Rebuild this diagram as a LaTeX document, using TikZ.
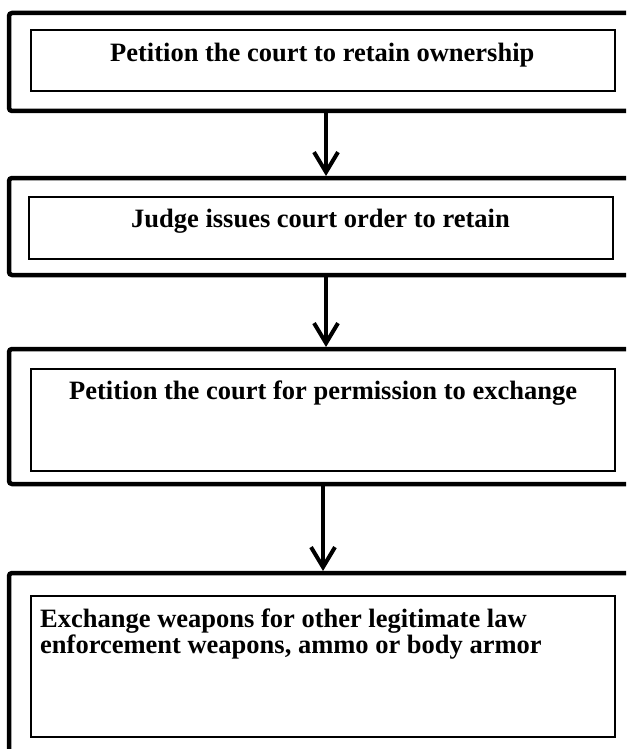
\documentclass[tikz,border=0pt]{standalone}
\usepackage{fontspec}
\setmainfont{Liberation Serif}
\usetikzlibrary{arrows.meta}
\begin{document}
\begin{tikzpicture}[x=1pt,y=1pt,
  outerbox/.style={draw, line width=4.5pt, rounded corners=3pt, inner sep=0pt, outer sep=0pt, anchor=north west},
  innerbox/.style={draw, line width=1.2pt, inner sep=0pt, outer sep=0pt, anchor=north west},
  txt/.style={font=\fontsize{26.5}{27}\selectfont\bfseries, inner sep=0pt, anchor=base west},
  flow/.style={line width=4pt, shorten >=2pt, -{Straight Barb[length=20pt,width=24pt]}}]
\useasboundingbox (0,0) rectangle (626,-749);
\clip (0,0) rectangle (626,-749);
% outer frames
\node[outerbox, minimum width=680, minimum height=98]  (o1) at (9,-13) {};
\node[outerbox, minimum width=680, minimum height=97]  (o2) at (9,-178) {};
\node[outerbox, minimum width=680, minimum height=135] (o3) at (9,-349) {};
\node[outerbox, minimum width=680, minimum height=227] (o4) at (9,-573) {};
% inner boxes
\node[innerbox, minimum width=584, minimum height=61]  (i1) at (31,-30) {};
\node[innerbox, minimum width=584, minimum height=62]  (i2) at (29,-197) {};
\node[innerbox, minimum width=584, minimum height=102] (i3) at (31,-369) {};
\node[innerbox, minimum width=584, minimum height=141] (i4) at (31,-596) {};
% texts
\node[txt] (t1) at (110,-62) {Petition the court to retain ownership};
\node[txt] (t2) at (131,-227) {Judge issues court order to retain};
\node[txt] (t3) at (69,-399) {Petition the court for permission to exchange};
\node[txt] (t4a) at (40,-627) {Exchange weapons for other legitimate law};
\node[txt] (t4b) at (40,-653) {enforcement weapons, ammo or body armor};
% connectors
\coordinate (ax1) at (326,0);
\coordinate (ax3) at (323,0);
\draw[flow] (o1.south -| ax1) -- (o2.north -| ax1);
\draw[flow] (o2.south -| ax1) -- (o3.north -| ax1);
\draw[flow] (o3.south -| ax3) -- (o4.north -| ax3);
\end{tikzpicture}
\end{document}
